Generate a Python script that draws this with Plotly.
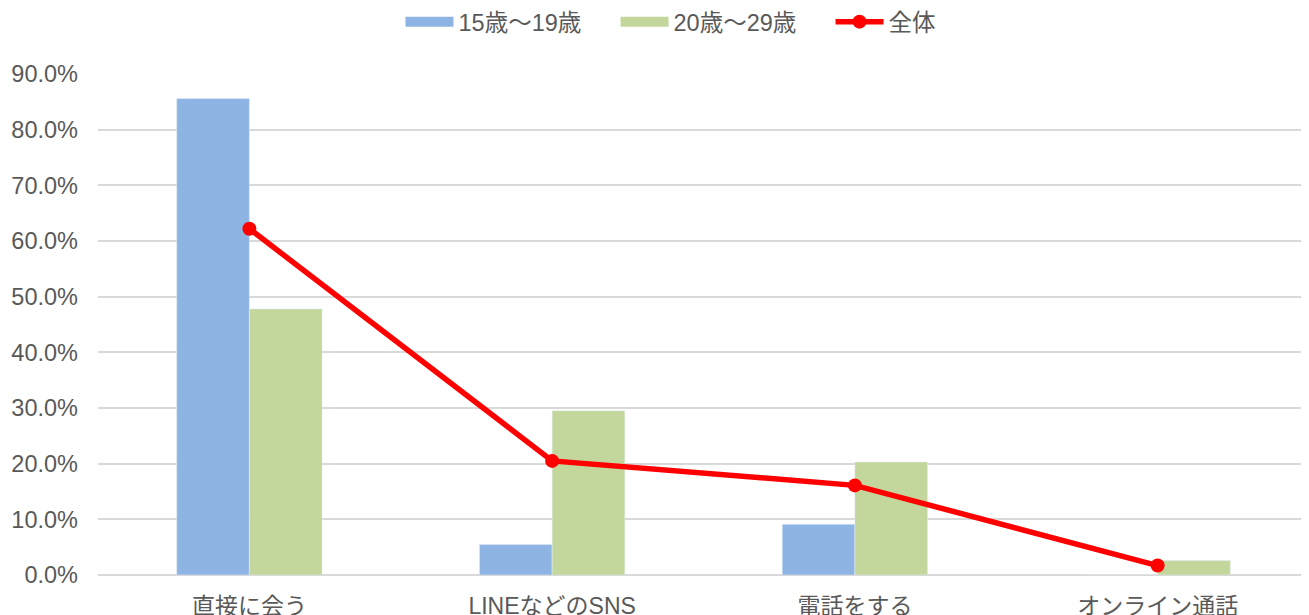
import plotly.graph_objects as go

categories = ["直接に会う", "LINEなどのSNS", "電話をする", "オンライン通話"]
age_15_19 = [0.856, 0.055, 0.091, 0.0]
age_20_29 = [0.478, 0.295, 0.203, 0.026]
overall = [0.622, 0.205, 0.161, 0.017]

font_family = "Liberation Sans, Arial, Noto Sans CJK JP, sans-serif"
blue = "#8EB4E3"
green = "#C3D69B"
red = "#FF0000"

fig = go.Figure()

fig.add_trace(go.Bar(
    x=categories, y=age_15_19, name="15歳～19歳",
    marker=dict(color=blue), showlegend=False,
))
fig.add_trace(go.Bar(
    x=categories, y=age_20_29, name="20歳～29歳",
    marker=dict(color=green), showlegend=False,
))
fig.add_trace(go.Scatter(
    x=categories, y=overall, name="全体", mode="lines+markers",
    line=dict(color=red, width=5.5),
    marker=dict(color=red, size=14),
    showlegend=False,
))

# legend entries (wide swatches like the original)
fig.add_trace(go.Scatter(x=[None], y=[None], mode="lines", name="15歳～19歳",
                         line=dict(color=blue, width=11)))
fig.add_trace(go.Scatter(x=[None], y=[None], mode="lines", name="20歳～29歳",
                         line=dict(color=green, width=11)))
fig.add_trace(go.Scatter(x=[None], y=[None], mode="lines+markers", name="全体",
                         line=dict(color=red, width=5.5),
                         marker=dict(color=red, size=14)))

fig.update_layout(
    width=1301, height=607,
    margin=dict(l=90, r=0, t=66, b=40, autoexpand=False),
    paper_bgcolor="white", plot_bgcolor="white",
    barmode="group", bargap=0.52, bargroupgap=0,
    font=dict(family=font_family, size=23, color="#595959"),
    legend=dict(
        orientation="h", x=0.2498, xanchor="left", y=1.104, yanchor="middle",
        font=dict(size=23.5, color="#595959"), itemwidth=48,
        entrywidth=152, entrywidthmode="pixels",
    ),
    xaxis=dict(showgrid=False, showline=False, ticks="", tickfont=dict(size=23),
               ticklabelstandoff=15),
    yaxis=dict(
        range=[0, 0.9], dtick=0.1, tickformat=".1%",
        gridcolor="#D9D9D9", gridwidth=1.5,
        zeroline=True, zerolinecolor="#D9D9D9", zerolinewidth=1.5,
        showline=False, ticks="", tickfont=dict(size=23.5),
        ticklabelstandoff=19,
    ),
)

fig.write_html("out.html")
